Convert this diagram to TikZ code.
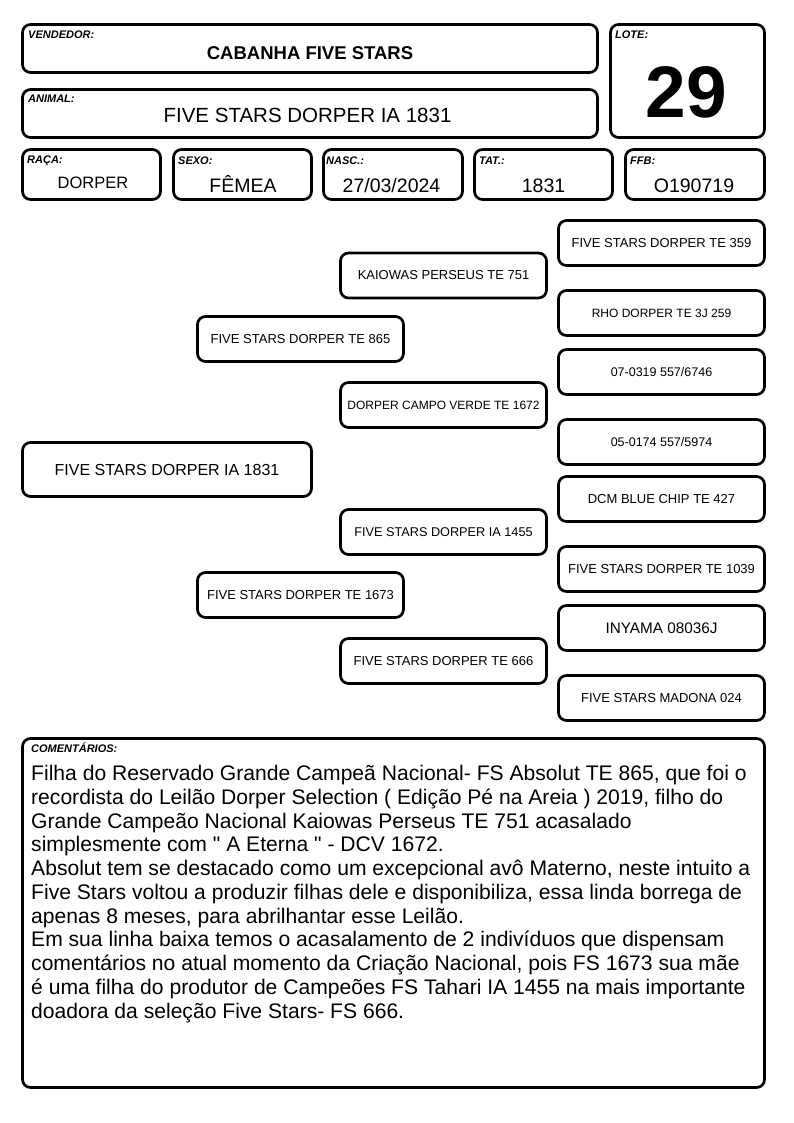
\documentclass[tikz,border=0pt]{standalone}
\usepackage{fontspec}
\setmainfont{Liberation Sans}[Ligatures=TeXOff]
\begin{document}
\begin{tikzpicture}[x=1pt,y=-1pt,
  box/.style={draw, line width=2.7pt, rounded corners=8pt, inner sep=0pt, align=center},
  lbl/.style={anchor=base west, inner sep=0pt, font=\fontsize{11}{13}\selectfont\bfseries\itshape},
  val/.style={anchor=base, inner sep=0pt, font=\fontsize{19.5}{22}\selectfont},
  ped/.style={box, minimum width=206pt, minimum height=45pt, font=\fontsize{13}{15}\selectfont},
  pedsm/.style={ped, font=\fontsize{12}{14}\selectfont}]
\useasboundingbox (0,0) rectangle (794,1123);
% header
\node[box, minimum width=575pt, minimum height=48pt] (vend) at (310,48.5) {};
\node[lbl] (vendl) at (28,39) {VENDEDOR:};
\node[anchor=base, inner sep=0pt, font=\fontsize{18.5}{22}\selectfont\bfseries] (vendv) at (310,60) {CABANHA FIVE STARS};
\node[box, minimum width=575pt, minimum height=48pt] (animal) at (310,113.5) {};
\node[lbl] (animall) at (28,103) {ANIMAL:};
\node[anchor=base, inner sep=0pt, font=\fontsize{20.5}{24}\selectfont] (animalv) at (307.5,123) {FIVE STARS DORPER IA 1831};
\node[box, minimum width=154pt, minimum height=113pt] (lote) at (687.5,81) {};
\node[lbl] (lotel) at (615,39) {LOTE:};
\node[anchor=base, inner sep=0pt, font=\fontsize{73}{80}\selectfont\bfseries] (lotev) at (686.5,118) {29};
% row
\node[box, minimum width=138pt, minimum height=50pt] (raca) at (91.5,174.5) {};
\node[lbl] (racal) at (27,164) {RAÇA:};
\node[anchor=base, inner sep=0pt, font=\fontsize{16.5}{20}\selectfont] (racav) at (93,188.3) {DORPER};
\node[box, minimum width=138pt, minimum height=50pt] (sexo) at (242.5,174.5) {};
\node[lbl] (sexol) at (178,164.3) {SEXO:};
\node[val] (sexov) at (243,192.5) {FÊMEA};
\node[box, minimum width=139pt, minimum height=50pt] (nasc) at (393,174.5) {};
\node[lbl] (nascl) at (326,164.3) {NASC.:};
\node[val] (nascv) at (391.5,192.5) {27/03/2024};
\node[box, minimum width=138pt, minimum height=50pt] (tat) at (543.5,174.5) {};
\node[lbl] (tatl) at (479,164.3) {TAT.:};
\node[val] (tatv) at (543.5,192.5) {1831};
\node[box, minimum width=139pt, minimum height=50pt] (ffb) at (695,174.5) {};
\node[lbl] (ffbl) at (630,164.3) {FFB:};
\node[val] (ffbv) at (694,192.5) {O190719};
% pedigree
\node[box, minimum width=289pt, minimum height=54pt, font=\fontsize{16}{19}\selectfont] (p0) at (167,469.5) {FIVE STARS DORPER IA 1831};
\node[ped] (p1a) at (300.5,339) {FIVE STARS DORPER TE 865};
\node[ped] (p1b) at (300.5,595) {FIVE STARS DORPER TE 1673};
\node[ped] (p2a) at (443.5,275.5) {KAIOWAS PERSEUS TE 751};
\node[pedsm] (p2b) at (443.5,405) {DORPER CAMPO VERDE TE 1672};
\node[pedsm, font=\fontsize{12.7}{15}\selectfont] (p2c) at (443.5,532) {FIVE STARS DORPER IA 1455};
\node[ped] (p2d) at (443.5,661) {FIVE STARS DORPER TE 666};
\node[ped] (p3a) at (661.5,243) {FIVE STARS DORPER TE 359};
\node[pedsm] (p3b) at (661.5,313) {RHO DORPER TE 3J 259};
\node[pedsm, font=\fontsize{12.5}{15}\selectfont] (p3c) at (661.5,372) {07-0319 557/6746};
\node[pedsm, font=\fontsize{12.5}{15}\selectfont] (p3d) at (661.5,442) {05-0174 557/5974};
\node[ped] (p3e) at (661.5,499) {DCM BLUE CHIP TE 427};
\node[ped] (p3f) at (661.5,569) {FIVE STARS DORPER TE 1039};
\node[ped, font=\fontsize{15.3}{18}\selectfont] (p3g) at (661.5,628) {INYAMA 08036J};
\node[ped] (p3h) at (661.5,698) {FIVE STARS MADONA 024};
% comments
\node[box, minimum width=742pt, minimum height=349pt] (coment) at (393.5,913) {};
\node[lbl] (comentl) at (31,752.7) {COMENTÁRIOS:};
\node[anchor=north west, inner sep=0pt, align=left, font=\fontsize{21.1}{23.75}\selectfont] (comentv) at (31,765) {%
Filha do Reservado Grande Campeã Nacional- FS Absolut TE 865, que foi o\\
recordista do Leilão Dorper Selection ( Edição Pé na Areia ) 2019, filho do\\
Grande Campeão Nacional Kaiowas Perseus TE 751 acasalado\\
simplesmente com " A Eterna " - DCV 1672.\\
Absolut tem se destacado como um excepcional avô Materno, neste intuito a\\
Five Stars voltou a produzir filhas dele e disponibiliza, essa linda borrega de\\
apenas 8 meses, para abrilhantar esse Leilão.\\
Em sua linha baixa temos o acasalamento de 2 indivíduos que dispensam\\
comentários no atual momento da Criação Nacional, pois FS 1673 sua mãe\\
é uma filha do produtor de Campeões FS Tahari IA 1455 na mais importante\\
doadora da seleção Five Stars- FS 666.};
\end{tikzpicture}
\end{document}
